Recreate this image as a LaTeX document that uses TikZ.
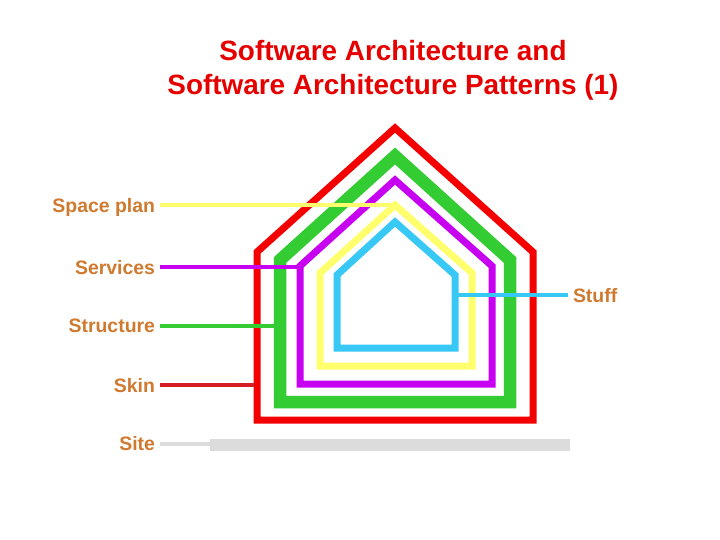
\documentclass[tikz,border=0pt]{standalone}
\usepackage{fontspec}
\setmainfont{Liberation Sans}
\definecolor{labtext}{RGB}{208,122,48}
\definecolor{titlered}{RGB}{230,0,0}
\definecolor{skinred}{RGB}{245,0,0}
\definecolor{skinlead}{RGB}{212,30,36}
\definecolor{structgreen}{RGB}{51,204,51}
\definecolor{servpurple}{RGB}{200,0,242}
\definecolor{spaceyellow}{RGB}{255,255,110}
\definecolor{stuffcyan}{RGB}{55,200,245}
\definecolor{sitegray}{RGB}{220,220,220}
\begin{document}
\begin{tikzpicture}[x=1bp,y=-1bp,
  lab/.style={anchor=east,font=\fontsize{19.5}{22}\selectfont\bfseries,text=labtext,
    inner sep=0pt,outer xsep=5bp,text depth=0pt},
  wall/.style={line width=#1,line join=miter},
  lead/.style={line width=4bp}]
\useasboundingbox[fill=white] (0,0) rectangle (720,540);

\node[font=\fontsize{28}{34}\selectfont\bfseries,text=titlered,align=center] (title) at (393,70)
  {Software Architecture and\\Software Architecture Patterns (1)};

% the five shells, outside in
\draw[wall=7bp,skinred] (257,420) -- (257,252) -- (395,128) -- (533,252) -- (533,420) -- cycle;
\draw[wall=12.5bp,structgreen] (280,402) -- (280,260) -- (395,156) -- (510,260) -- (510,402) -- cycle;
\draw[wall=7bp,servpurple] (300,384) -- (300,266) -- (395,180) -- (492,266) -- (492,384) -- cycle;
\draw[wall=7bp,spaceyellow] (320,366) -- (320,273) -- (395,205) -- (472,273) -- (472,366) -- cycle;
\draw[wall=7bp,stuffcyan] (337,348) -- (337,275) -- (395,222) -- (455,275) -- (455,348) -- cycle;
\fill[sitegray] (210,438.5) rectangle (570,450.5);

\coordinate (ytip) at (395,205);
\coordinate (ptip) at (300,267);
\coordinate (gtip) at (274,326);
\coordinate (rtip) at (254,385);
\coordinate (stip) at (210,443.5);
\coordinate (ctip) at (458,295);

\node[lab] (spaceplan) at (160,205) {Space plan};
\node[lab] (services) at (160,267) {Services};
\node[lab] (structure) at (160,326) {Structure};
\node[lab] (skin) at (160,385) {Skin};
\node[lab] (site) at (160,443.5) {Site};
\node[lab,anchor=west] (stuff) at (568,295) {Stuff};

\draw[lead,spaceyellow] (spaceplan.east) -- (ytip);
\draw[lead,servpurple] (services.east) -- (ptip);
\draw[lead,structgreen] (structure.east) -- (gtip);
\draw[lead,skinlead] (skin.east) -- (rtip);
\draw[lead,sitegray] (site.east) -- (stip);
\draw[lead,stuffcyan] (ctip) -- (stuff.west);
\end{tikzpicture}
\end{document}
